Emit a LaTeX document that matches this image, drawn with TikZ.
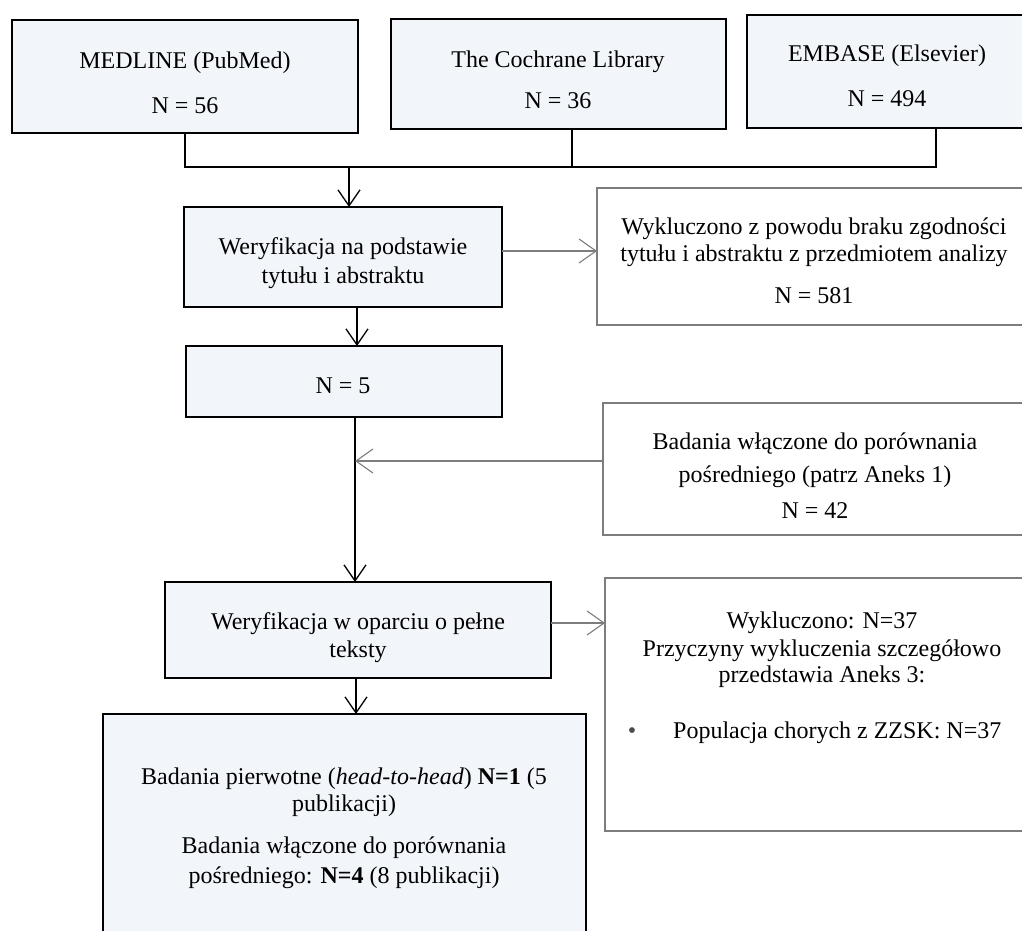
\documentclass[tikz,border=0pt]{standalone}
\usepackage{fontspec}
\setmainfont{Liberation Serif}
\usetikzlibrary{arrows.meta,calc}
\definecolor{boxfill}{RGB}{242,246,250}
\definecolor{greyline}{RGB}{125,125,125}
\tikzset{
  mainbox/.style={draw=black, line width=1.5pt, fill=boxfill, anchor=north west, inner sep=0pt, outer sep=0pt},
  sidebox/.style={draw=greyline, line width=1.1pt, fill=white, anchor=north west, inner sep=0pt, outer sep=0pt},
  tl/.style={anchor=base, inner sep=0pt, font=\fontsize{24}{28}\selectfont},
  conn/.style={draw=black, line width=1.3pt},
  arr/.style={draw=black, line width=1.3pt, -{Straight Barb[length=16pt,width=22pt,line width=1.3pt]}},
  garr/.style={draw=greyline, line width=1.1pt, -{Straight Barb[length=17pt,width=24pt,line width=1.1pt]}},
}
\begin{document}
\begin{tikzpicture}[x=1pt,y=-1pt]
\useasboundingbox[fill=white] (0,0) rectangle (1022,930);
\clip (0,0) rectangle (1022,930);

% boxes
\node[mainbox, minimum width=346pt, minimum height=113pt] (med) at (12,20) {};
\node[mainbox, minimum width=335pt, minimum height=110pt] (coch) at (391,19) {};
\node[mainbox, minimum width=300pt, minimum height=113pt] (emb) at (747,15) {};
\node[mainbox, minimum width=318pt, minimum height=100pt] (wer1) at (184,207) {};
\node[sidebox, minimum width=450pt, minimum height=137pt] (exc1) at (597,188) {};
\node[mainbox, minimum width=316pt, minimum height=71pt] (n5) at (186,346) {};
\node[sidebox, minimum width=440pt, minimum height=132pt] (bad) at (603,403) {};
\node[mainbox, minimum width=386pt, minimum height=96pt] (wer2) at (165,582) {};
\node[sidebox, minimum width=440pt, minimum height=253pt] (exc2) at (605,578) {};
\node[mainbox, minimum width=483pt, minimum height=260pt] (fin) at (103,714) {};

% texts
\node[tl] (medA) at (185,68) {MEDLINE (PubMed)};
\node[tl] (medB) at (185,113) {N = 56};
\node[tl] (cochA) at (558,67) {The Cochrane Library};
\node[tl] (cochB) at (558,108) {N = 36};
\node[tl] (embA) at (887,61) {EMBASE (Elsevier)};
\node[tl] (embB) at (887,106) {N = 494};
\node[tl] (wer1A) at (343,254) {Weryfikacja na podstawie};
\node[tl] (wer1B) at (343,283) {tytułu i abstraktu};
\node[tl] (exc1A) at (814,234) {Wykluczono z powodu braku zgodności};
\node[tl] (exc1B) at (814,261) {tytułu i abstraktu z przedmiotem analizy};
\node[tl] (exc1C) at (814,303) {N = 581};
\node[tl] (n5A) at (343,393) {N = 5};
\node[tl] (badA) at (815,449) {Badania włączone do porównania};
\node[tl] (badB) at (815,482) {pośredniego (patrz Aneks 1)};
\node[tl] (badC) at (815,518) {N = 42};
\node[tl] (wer2A) at (358,629) {Weryfikacja w oparciu o pełne};
\node[tl] (wer2B) at (358,657) {teksty};
\node[tl] (exc2A) at (822,628) {Wykluczono: N=37};
\node[tl] (exc2B) at (822,656) {Przyczyny wykluczenia szczegółowo};
\node[tl] (exc2C) at (822,682) {przedstawia Aneks 3:};
\node[tl, text=black!70] (exc2bul) at (632,738) {•};
\node[tl, anchor=base west] (exc2D) at (673,738) {Populacja chorych z ZZSK: N=37};
\node[tl] (finA) at (344,784) {Badania pierwotne (\textit{head-to-head}) \textbf{N=1} (5};
\node[tl] (finB) at (344,811) {publikacji)};
\node[tl] (finC) at (344,853) {Badania włączone do porównania};
\node[tl] (finD) at (344,883) {pośredniego: \textbf{N=4} (8 publikacji)};

% connectors
\coordinate (jl) at (185,167);
\coordinate (jr) at (936,167);
\coordinate (jx) at (349,167);
\coordinate (jc) at ($(coch.south west)+(181,0)$);
\draw[conn] (med.south) -- (jl) -- (jr) -- (jr |- emb.south);
\draw[conn] (jc) -- (jc |- jl);
\draw[arr] (jx) -- (jx |- wer1.north);
\coordinate (a1) at ($(wer1.north east)+(0,44)$);
\draw[garr] (a1) -- (a1 -| exc1.west);
\coordinate (d1) at ($(wer1.south west)+(173,0)$);
\draw[arr] (d1) -- (d1 |- n5.north);
\coordinate (d2) at ($(n5.south west)+(169,0)$);
\coordinate (vl) at ($(n5.south west)+(169,44)$);
\draw[conn] (d2) -- (vl);
\draw[arr] (vl) -- (vl |- wer2.north);
\coordinate (b1) at ($(bad.north west)+(0,58)$);
\draw[garr] (b1) -- (vl);
\coordinate (a2) at ($(wer2.north east)+(0,41)$);
\draw[garr] (a2) -- (a2 -| exc2.west);
\coordinate (d3) at ($(wer2.south west)+(191,0)$);
\draw[arr] (d3) -- (d3 |- fin.north);
\end{tikzpicture}
\end{document}
